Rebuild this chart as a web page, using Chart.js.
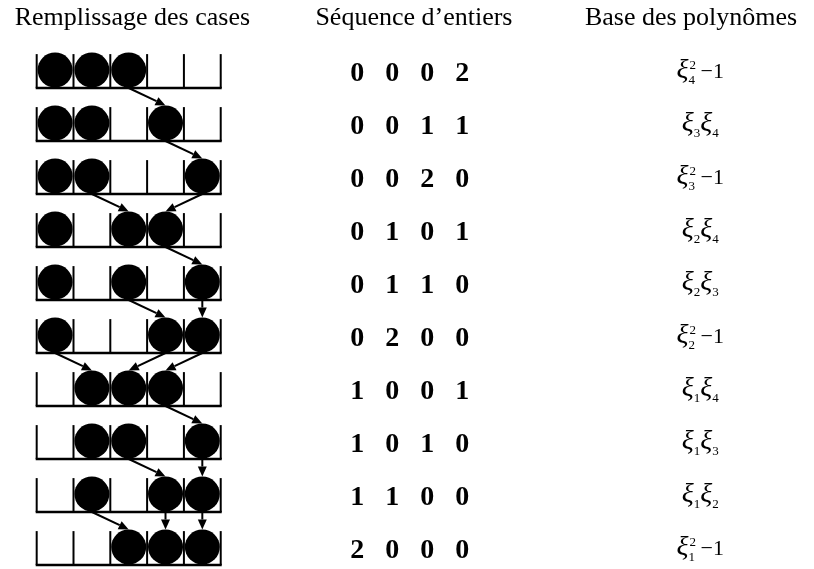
<!DOCTYPE html>
<html>
<head>
<meta charset="utf-8">
<script src="https://cdn.jsdelivr.net/npm/chart.js@4/dist/chart.umd.min.js"></script>
<style>
body { margin: 0; background: #fff; }
#wrap { width: 814px; height: 569px; position: relative; }
</style>
</head>
<body>
<div id="wrap"><canvas id="casesChart"></canvas></div>
<script>
const ctx = document.getElementById('casesChart').getContext('2d');

let headers = ['Remplissage des cases', 'Séquence d’entiers', 'Base des polynômes'];

// séquence d'entiers de chaque ligne
let sequences = [
    [0,0,0,2],
    [0,0,1,1],
    [0,0,2,0],
    [0,1,0,1],
    [0,1,1,0],
    [0,2,0,0],
    [1,0,0,1],
    [1,0,1,0],
    [1,1,0,0],
    [2,0,0,0]
];

// indices des xi de la base (i == j -> xi_i^2 - 1)
let bases = [[4,4],[3,4],[3,3],[2,4],[2,3],[2,2],[1,4],[1,3],[1,2],[1,1]];

const nbCases = 5;
const serif = '"Liberation Serif", "Times New Roman", serif';

// position des boules dans chaque ligne, à partir de la séquence
function ballCells(seq) {
    let cells = [];
    let pos = 0;
    for (let k = 0; k < seq.length - 1; k++) {
        pos += seq[k];
        cells.push(pos);
        pos += 1;
    }
    return cells;
}

const rows = sequences.map(ballCells);

let balls = [];
rows.forEach((cells, r) => cells.forEach(c => balls.push({ x: c + 0.5, y: r })));

// flèches : à partir de la première boule déplacée
let arrows = [];
for (let r = 0; r < rows.length - 1; r++) {
    const a = rows[r], b = rows[r + 1];
    let first = a.findIndex((c, k) => c !== b[k]);
    if (first < 0) continue;
    for (let k = first; k < a.length; k++) arrows.push({ row: r, from: a[k], to: b[k] });
}

function drawArrow(c, x1, y1, x2, y2) {
    const ang = Math.atan2(y2 - y1, x2 - x1);
    const head = 10, half = 4.5;
    const bx = x2 - head * Math.cos(ang), by = y2 - head * Math.sin(ang);
    c.beginPath();
    c.moveTo(x1, y1);
    c.lineTo(bx, by);
    c.stroke();
    c.beginPath();
    c.moveTo(x2, y2);
    c.lineTo(bx + half * Math.sin(ang), by - half * Math.cos(ang));
    c.lineTo(bx - half * Math.sin(ang), by + half * Math.cos(ang));
    c.closePath();
    c.fill();
}

function drawPoly(c, pair, cx, baseY) {
    const [i, j] = pair;
    let parts = [];
    const xi = { t: 'ξ', f: 'italic 28px ' + serif, dy: 0 };
    const small = '13px ' + serif;
    if (i === j) {
        parts.push(xi, { t: String(i), f: small, dy: 6 });
        parts.push({ t: '2', f: small, dy: -9, overlap: true });
        parts.push({ t: ' −1', f: '22px ' + serif, dy: 0 });
    } else {
        parts.push(xi, { t: String(i), f: small, dy: 6 });
        parts.push(xi, { t: String(j), f: small, dy: 6 });
    }
    // largeur totale (l'exposant se superpose à l'indice)
    let w = 0, last = 0;
    parts.forEach(p => {
        c.font = p.f;
        p.w = c.measureText(p.t).width;
        if (p.overlap) { w = w - last + Math.max(last, p.w); }
        else { w += p.w; }
        last = p.w;
    });
    let x = cx - w / 2;
    let prevX = x;
    c.textAlign = 'left';
    c.textBaseline = 'alphabetic';
    parts.forEach(p => {
        c.font = p.f;
        if (p.overlap) {
            c.fillText(p.t, prevX + 1, baseY + p.dy);
            x = prevX + Math.max(p.w, last);
        } else {
            c.fillText(p.t, x, baseY + p.dy);
            prevX = x;
            x += p.w;
        }
        last = p.w;
    });
}

Chart.register({
    id: 'casesDiagram',
    beforeDatasetsDraw: (chart) => {
        const c = chart.ctx;
        const xs = chart.scales.x, ys = chart.scales.y;
        c.save();
        c.strokeStyle = '#000';
        c.lineWidth = 2;
        rows.forEach((_, r) => {
            const top = ys.getPixelForValue(r - 0.3);
            const floor = ys.getPixelForValue(r + 0.34);
            for (let k = 0; k <= nbCases; k++) {
                const x = xs.getPixelForValue(k);
                c.beginPath();
                c.moveTo(x, top);
                c.lineTo(x, floor);
                c.stroke();
            }
            c.lineWidth = 2.5;
            c.beginPath();
            c.moveTo(xs.getPixelForValue(0) - 1, floor);
            c.lineTo(xs.getPixelForValue(nbCases) + 1, floor);
            c.stroke();
            c.lineWidth = 2;
        });
        c.restore();
    },
    afterDatasetsDraw: (chart) => {
        const c = chart.ctx;
        const xs = chart.scales.x, ys = chart.scales.y;
        c.save();
        c.strokeStyle = '#000';
        c.fillStyle = '#000';
        c.lineWidth = 2;
        arrows.forEach(a => {
            const x1 = xs.getPixelForValue(a.from + 0.5);
            const y1 = ys.getPixelForValue(a.row + 0.34);
            const x2 = xs.getPixelForValue(a.to + 0.5);
            const y2 = ys.getPixelForValue(a.row + 1 - 0.33);
            drawArrow(c, x1, y1, x2, y2);
        });

        // titres
        c.font = '26px ' + serif;
        c.textAlign = 'center';
        c.textBaseline = 'alphabetic';
        const headX = [2.6, 10.25, 17.78];
        headers.forEach((h, k) => c.fillText(h, xs.getPixelForValue(headX[k]), ys.getPixelForValue(-0.85)));

        // séquences
        c.font = 'bold 28px ' + serif;
        sequences.forEach((seq, r) => {
            seq.forEach((v, k) => {
                c.fillText(String(v), xs.getPixelForValue(8.71 + 0.951 * k), ys.getPixelForValue(r + 0.2));
            });
        });

        // base des polynômes
        bases.forEach((pair, r) => drawPoly(c, pair, xs.getPixelForValue(18.03), ys.getPixelForValue(r + 0.15)));
        c.restore();
    }
});

const chart = new Chart(ctx, {
    type: 'scatter',
    data: {
        datasets: [{
            label: 'boules',
            data: balls,
            backgroundColor: '#000',
            borderWidth: 0,
            pointRadius: 17.5,
            pointHoverRadius: 17.5,
            pointStyle: 'circle'
        }]
    },
    options: {
        responsive: true,
        maintainAspectRatio: false,
        animation: false,
        layout: { padding: 0, autoPadding: false },
        events: [],
        plugins: {
            legend: { display: false },
            tooltip: { enabled: false }
        },
        scales: {
            x: { type: 'linear', min: -0.997, max: 21.12, bounds: 'data', display: false },
            y: { type: 'linear', min: -1.3208, max: 9.4151, bounds: 'data', reverse: true, display: false }
        }
    }
});
</script>
</body>
</html>
